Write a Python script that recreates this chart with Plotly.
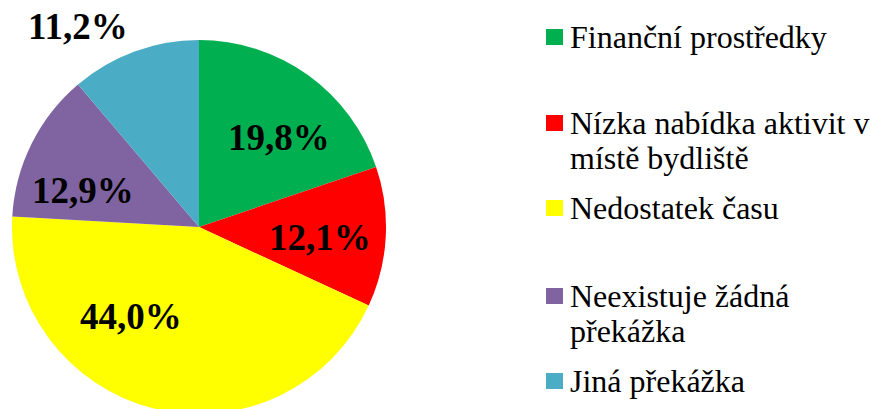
import math
import plotly.graph_objects as go

# ---- data ----
categories = [
    "Finanční prostředky",
    "Nízka nabídka aktivit v<br>místě bydliště",
    "Nedostatek času",
    "Neexistuje žádná<br>překážka",
    "Jiná překážka",
]
values = [19.8, 12.1, 44.0, 12.9, 11.2]
colors = ["#00B050", "#FF0000", "#FFFF00", "#8064A2", "#4BACC6"]

# ---- layout constants (pixels) ----
W, H = 870, 430          # page is 409 tall; the pie runs slightly past the bottom edge
CX, CY, R = 199, 227, 187
FONT = "Liberation Serif"

# label placement relative to each slice's mid-angle (layout, not data)
label_dangle = [6, 2, 23, -9, -11]        # degrees
label_rfrac = [0.64, 0.65, 0.60, 0.65, 1.25]
label_font_size = 37

legend_box_x = 546
legend_box_w, legend_box_h = 17, 16
legend_text_x = 568
legend_baselines = [48, 134, 219, 307, 392]
legend_line_step = 35
legend_font_size = 32


def px_x(x):
    return x / W


def px_y(y):
    return 1 - y / H


fig = go.Figure(
    go.Pie(
        labels=[c.replace("<br>", " ") for c in categories],
        values=values,
        marker=dict(colors=colors, line=dict(width=0)),
        sort=False,
        direction="clockwise",
        rotation=0,
        textinfo="none",
        hoverinfo="label+percent",
        showlegend=False,
        domain=dict(
            x=[px_x(CX - R), px_x(CX + R)],
            y=[px_y(CY + R), px_y(CY - R)],
        ),
    )
)

annotations = []
shapes = []

# legend
for i, cat in enumerate(categories):
    base = legend_baselines[i]
    cy_box = base - 11
    shapes.append(
        dict(
            type="rect", xref="paper", yref="paper",
            x0=px_x(legend_box_x), x1=px_x(legend_box_x + legend_box_w),
            y0=px_y(cy_box + legend_box_h / 2), y1=px_y(cy_box - legend_box_h / 2),
            fillcolor=colors[i], line=dict(width=0),
        )
    )
    for j, line in enumerate(cat.split("<br>")):
        b = base + j * legend_line_step
        annotations.append(
            dict(
                x=px_x(legend_text_x), y=px_y(b - 11), xref="paper", yref="paper",
                text=line, showarrow=False, xanchor="left", yanchor="middle",
                font=dict(family=FONT, size=legend_font_size, color="#000000"),
            )
        )

# data labels
total = sum(values)
cum = 0.0
for i, v in enumerate(values):
    mid = (cum + v / 2) / total * 360.0
    cum += v
    ang = math.radians(mid + label_dangle[i])
    r = R * label_rfrac[i]
    lx = CX + r * math.sin(ang)
    ly = CY - r * math.cos(ang)
    annotations.append(
        dict(
            x=px_x(lx), y=px_y(ly), xref="paper", yref="paper",
            text=f"{v:.1f}".replace(".", ",") + "%",
            showarrow=False, xanchor="center", yanchor="middle",
            font=dict(family=FONT, size=label_font_size, color="#000000", weight="bold"),
        )
    )

fig.update_layout(
    width=W, height=H,
    margin=dict(l=0, r=0, t=0, b=0),
    font=dict(family=FONT),
    paper_bgcolor="white", plot_bgcolor="white",
    annotations=annotations, shapes=shapes,
    showlegend=False,
)

fig.write_html(
    "out.html",
    config={"displayModeBar": False},
    post_script=(
        "document.body.style.margin='0';"
        "document.documentElement.style.overflow='hidden';"
        "document.body.style.overflow='hidden';"
    ),
)
